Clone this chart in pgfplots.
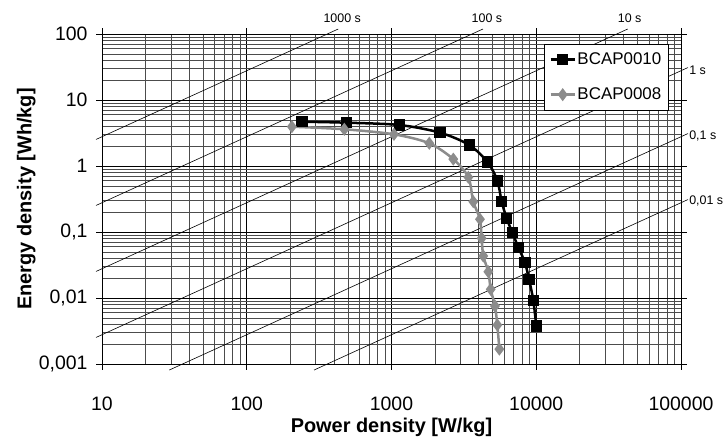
\documentclass[border=0pt]{standalone}
\usepackage{fontspec}
\setmainfont{Liberation Sans}
\usepackage{pgfplots}
\pgfplotsset{compat=1.18}

\begin{document}
\begin{tikzpicture}
\useasboundingbox (-102bp,-75bp) rectangle (621bp,364bp);
\begin{axis}[
  xmode=log, ymode=log,
  scale only axis,
  width=579bp, height=330bp,
  xmin=10, xmax=100000, ymin=0.001, ymax=100,
  xtick={10,100,1000,10000,100000},
  xticklabels={10,100,1000,10000,100000},
  ytick={0.001,0.01,0.1,1,10,100},
  yticklabels={{0,001},{0,01},{0,1},1,10,100},
  tick align=outside,
  major tick length=6bp,
  minor tick length=0pt,
  grid=both,
  major grid style={black, line width=0.8bp},
  minor grid style={black!70, line width=0.7bp},
  axis line style={black, line width=0.8bp},
  tick style={black, line width=0.8bp},
  ticklabel style={font=\fontsize{19.5}{22}\selectfont},
  xticklabel style={yshift=-23bp},
  yticklabel style={xshift=-5bp},
  xlabel={Power density [W/kg]},
  ylabel={Energy density [Wh/kg]},
  label style={font=\bfseries\fontsize{20}{22}\selectfont},
  xlabel style={at={(axis description cs:0.5,-0.192)}, anchor=center},
  ylabel style={at={(axis description cs:-0.131,0.5)}, anchor=center},
  clip=false,
  legend style={at={(0.9775,0.9697)}, anchor=north east, draw=black,
    font=\fontsize{17}{19}\selectfont,
    inner xsep=5bp, inner ysep=7bp, row sep=19bp,
    nodes={inner sep=1.5bp}},
  legend cell align=left,
  legend image code/.code={\draw[line width=2.5bp, mark repeat=2, mark phase=2]
    plot coordinates {(0bp,0bp) (12bp,0bp) (24bp,0bp)};},
]
% constant discharge time lines  E = P * t / 3600
\addplot[black, line width=0.6bp, forget plot] coordinates {(9.09,2.525) (428.4,119)}
  node[pos=1, anchor=base, inner sep=0pt, xshift=4bp, yshift=7bp, font=\fontsize{12.5}{14}\selectfont] {1000 s};
\addplot[black, line width=0.6bp, forget plot] coordinates {(9.09,0.2525) (4284,119)}
  node[pos=1, anchor=base, inner sep=0pt, xshift=4bp, yshift=7bp, font=\fontsize{12.5}{14}\selectfont] {100 s};
\addplot[black, line width=0.6bp, forget plot] coordinates {(9.09,0.02525) (42840,119)}
  node[pos=1, anchor=base, inner sep=0pt, xshift=2bp, yshift=7bp, font=\fontsize{12.5}{14}\selectfont] {10 s};
\addplot[black, line width=0.6bp, forget plot] coordinates {(9.09,0.002525) (111700,31.03)}
  node[pos=1, anchor=base west, inner sep=0pt, xshift=1bp, yshift=-6.5bp, font=\fontsize{12.5}{14}\selectfont] {1 s};
\addplot[black, line width=0.6bp, forget plot] coordinates {(29.2,0.000811) (111700,3.103)}
  node[pos=1, anchor=base west, inner sep=0pt, xshift=1bp, yshift=-5.5bp, font=\fontsize{12.5}{14}\selectfont] {0,1 s};
\addplot[black, line width=0.6bp, forget plot] coordinates {(292,0.000811) (111700,0.3103)}
  node[pos=1, anchor=base west, inner sep=0pt, xshift=1bp, yshift=-4.5bp, font=\fontsize{12.5}{14}\selectfont] {0,01 s};

% BCAP0010
\addplot[black, line width=2.5bp, smooth, mark=square*, mark size=4.5bp,
  mark options={solid}] coordinates {
  (240,4.69) (490,4.53) (1132,4.18) (2163,3.20) (3445,2.08) (4620,1.14)
  (5390,0.593) (5770,0.288) (6250,0.161) (6840,0.0975) (7520,0.0586)
  (8360,0.0343) (8910,0.0192) (9550,0.0091) (10000,0.00376)};
% BCAP0008
\addplot[black!45, line width=2.5bp, smooth, mark=diamond*, mark size=4.5bp,
  mark options={solid}] coordinates {
  (205,3.94) (472,3.60) (1040,3.02) (1824,2.21) (2673,1.27) (3396,0.675)
  (3673,0.288) (4085,0.156) (4195,0.0804) (4305,0.0433) (4665,0.0250)
  (4845,0.01355) (5185,0.00757) (5385,0.0039) (5560,0.00168)};
\legend{BCAP0010, BCAP0008}
\end{axis}
\end{tikzpicture}
\end{document}
